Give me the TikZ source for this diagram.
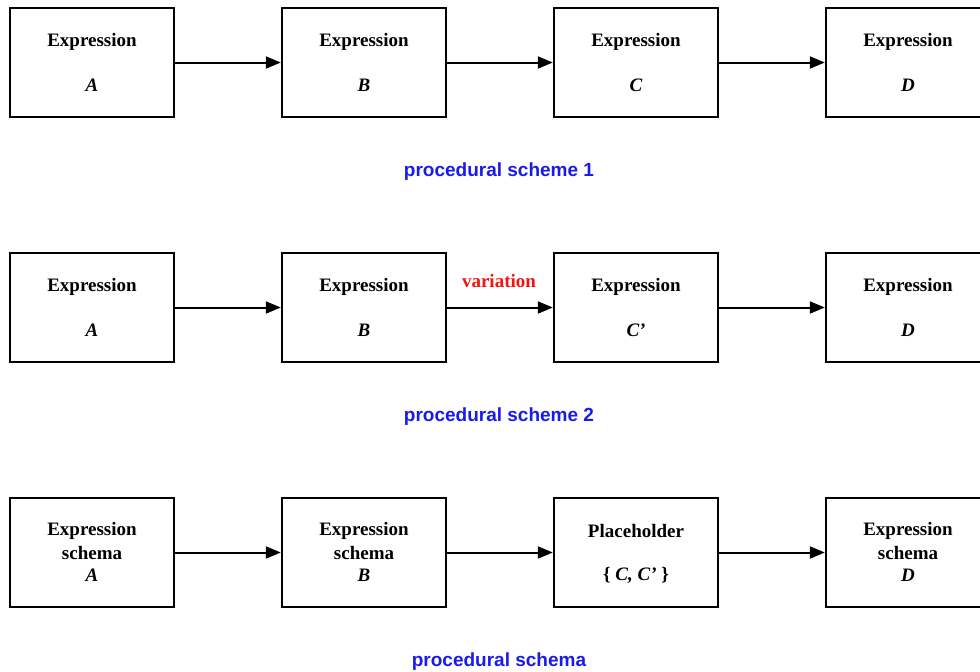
\documentclass[tikz,border=0pt]{standalone}
\usepackage{fontspec}
\setmainfont{Liberation Serif}
\newfontfamily\capfont{Liberation Sans}
\usetikzlibrary{arrows.meta}
\definecolor{capblue}{RGB}{26,26,235}
\definecolor{varred}{RGB}{240,20,20}
\begin{document}
\begin{tikzpicture}[x=1pt,y=-1pt,
  exbox/.style={draw=black,line width=2.4pt,minimum width=164pt,minimum height=109pt,inner sep=0pt,fill=white},
  extext/.style={font=\fontsize{19}{22}\selectfont\bfseries,inner sep=0pt,anchor=center},
  caption/.style={font=\capfont\fontsize{19}{22}\selectfont\bfseries,text=capblue,inner sep=0pt},
  flow/.style={line width=2pt,-{Triangle[length=15pt,width=12pt]}}]
\useasboundingbox (0,0) rectangle (980,672);
\clip (0,0) rectangle (980,672);
\fill[white] (0,0) rectangle (980,672);
\foreach \i/\x in {1/92,2/364,3/636,4/908}{
  \node[exbox] (r1b\i) at (\x,62.5) {};
  \node[exbox] (r2b\i) at (\x,307.5) {};
  \node[exbox] (r3b\i) at (\x,552.5) {};
}
% row 1 texts
\node[extext] (r1t1) at ([yshift=21pt]r1b1.center) {Expression};
\node[extext] (r1l1) at ([yshift=-22.5pt]r1b1.center) {\itshape A};
\node[extext] (r1t2) at ([yshift=21pt]r1b2.center) {Expression};
\node[extext] (r1l2) at ([yshift=-22.5pt]r1b2.center) {\itshape B};
\node[extext] (r1t3) at ([yshift=21pt]r1b3.center) {Expression};
\node[extext] (r1l3) at ([yshift=-22.5pt]r1b3.center) {\itshape C};
\node[extext] (r1t4) at ([yshift=21pt]r1b4.center) {Expression};
\node[extext] (r1l4) at ([yshift=-22.5pt]r1b4.center) {\itshape D};
% row 2 texts
\node[extext] (r2t1) at ([yshift=21pt]r2b1.center) {Expression};
\node[extext] (r2l1) at ([yshift=-22.5pt]r2b1.center) {\itshape A};
\node[extext] (r2t2) at ([yshift=21pt]r2b2.center) {Expression};
\node[extext] (r2l2) at ([yshift=-22.5pt]r2b2.center) {\itshape B};
\node[extext] (r2t3) at ([yshift=21pt]r2b3.center) {Expression};
\node[extext] (r2l3) at ([yshift=-22.5pt]r2b3.center) {\itshape C’};
\node[extext] (r2t4) at ([yshift=21pt]r2b4.center) {Expression};
\node[extext] (r2l4) at ([yshift=-22.5pt]r2b4.center) {\itshape D};
% row 3 texts
\node[extext] (r3t1) at ([yshift=21.5pt]r3b1.center) {Expression};
\node[extext] (r3s1) at ([yshift=-0.5pt]r3b1.center) {schema};
\node[extext] (r3l1) at ([yshift=-22.5pt]r3b1.center) {\itshape A};
\node[extext] (r3t2) at ([yshift=21.5pt]r3b2.center) {Expression};
\node[extext] (r3s2) at ([yshift=-0.5pt]r3b2.center) {schema};
\node[extext] (r3l2) at ([yshift=-22.5pt]r3b2.center) {\itshape B};
\node[extext] (r3t3) at ([yshift=21.5pt]r3b3.center) {Placeholder};
\node[extext] (r3l3) at ([yshift=-22.5pt]r3b3.center) {\{ \itshape C, C’ \upshape\}};
\node[extext] (r3t4) at ([yshift=21.5pt]r3b4.center) {Expression};
\node[extext] (r3s4) at ([yshift=-0.5pt]r3b4.center) {schema};
\node[extext] (r3l4) at ([yshift=-22.5pt]r3b4.center) {\itshape D};
% arrows
\foreach \r in {1,2,3}{
  \draw[flow] (r\r b1.east) -- (r\r b2.west);
  \draw[flow] (r\r b2.east) -- (r\r b3.west);
  \draw[flow] (r\r b3.east) -- (r\r b4.west);
}
\node[extext,text=varred] (var) at (499,280.5) {variation};
% captions
\node[caption] (c1) at (499,172) {procedural scheme 1};
\node[caption] (c2) at (499,417) {procedural scheme 2};
\node[caption] (c3) at (499,662) {procedural schema};
\end{tikzpicture}
\end{document}
